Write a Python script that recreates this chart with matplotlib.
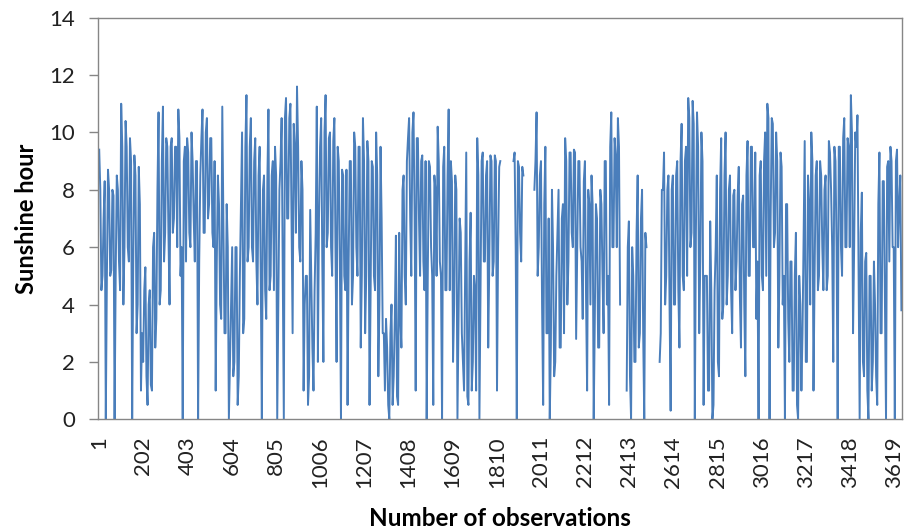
import numpy as np
import matplotlib.pyplot as plt

# =====================================================================
# Sunshine hours.
#   peaks_*  : single daily readings, every 10th observation
#              (the spikes and drops that stand out of the band)
#   core_*   : (upper, lower) edge of the dense band, every 20 obs
#   nan      : no data drawn in the reference
# =====================================================================
nan = np.nan

peaks_0001_0200 = [9.4, 4.5, 7.0, 0, 8.7, 5.0, 8.0, 0, 8.5, 5.5, 11.0, 4.0, 10.4, 6.0, 9.8, 0, 9.2, 3.0, 8.8, 1.0]
peaks_0201_0400 = [2.0, 5.3, 0.5, 4.5, 1.0, 6.5, 3.5, 10.7, 4.5, 10.9, 6.5, 9.5, 4.0, 9.8, 7.0, 9.5, 10.8, 5.0, 0, 9.5]
peaks_0401_0600 = [9.8, 6.5, 10.0, 7.0, 9.0, 0, 8.5, 10.8, 6.5, 10.5, 7.5, 9.8, 6.0, 1.0, 8.5, 4.0, 10.9, 3.0, 7.5, 0]
peaks_0601_0800 = [4.0, 1.5, 6.0, 0.5, 5.0, 10.0, 3.5, 11.3, 6.0, 10.5, 5.5, 9.8, 4.0, 9.5, 0, 8.5, 3.5, 10.8, 5.0, 9.0]
peaks_0801_1000 = [9.5, 0, 8.0, 10.5, 0, 11.2, 7.0, 11.0, 3.0, 9.5, 11.6, 6.0, 9.0, 1.0, 5.0, 0.5, 7.3, 2.5, 4.5, 10.9]
peaks_1001_1200 = [7.0, 10.5, 2.0, 11.3, 6.5, 10.0, 5.0, 10.5, 2.0, 9.0, 0, 8.5, 4.5, 0.5, 9.0, 4.0, 10.0, 6.0, 9.5, 2.5]
peaks_1201_1400 = [10.5, 3.0, 9.7, 0.5, 9.0, 5.0, 10.0, 1.5, 9.5, 3.0, 1.0, 2.5, 0, 4.0, 1.5, 6.4, 0.5, 3.5, 8.0, 5.0]
peaks_1401_1600 = [9.0, 10.5, 5.0, 10.7, 1.0, 9.8, 5.0, 9.2, 4.5, 0, 9.0, 6.0, 0.5, 8.0, 10.2, 5.5, 0, 9.5, 4.5, 10.8]
peaks_1601_1800 = [9.0, 2.0, 8.5, 0, 7.0, 3.0, 1.0, 9.3, 0.5, 7.2, 2.0, 4.5, 9.8, 0, 9.0, 5.5, 8.5, 2.5, 9.2, 5.0]
peaks_1801_2000 = [9.2, 1.0, 8.8, nan, nan, nan, nan, nan, nan, 9.3, 0, 8.8, 5.5, 8.5, nan, nan, nan, nan, 8.0, 10.7]
peaks_2001_2200 = [6.0, 9.0, 0.5, 9.5, 3.0, 0, 8.0, 1.5, 5.0, 8.0, 2.5, 7.5, 9.8, 4.0, 9.3, 6.5, 9.4, 2.8, 9.0, 6.0]
peaks_2201_2400 = [3.5, 9.0, 1.0, 7.5, 8.5, 0, 7.5, 2.5, 8.0, 5.0, 9.0, 4.0, 0.5, 10.7, 6.0, 9.2, 10.5, 4.0, nan, nan]
peaks_2401_2600 = [1.0, 6.9, 0, 5.0, 2.0, 8.5, 3.0, 8.0, 0, 6.0, nan, nan, nan, nan, nan, 2.0, 8.0, 9.3, 5.0, 8.5]
peaks_2601_2800 = [0.3, 8.5, 4.0, 9.0, 2.5, 10.3, 4.5, 9.5, 11.2, 6.0, 11.1, 0, 10.7, 3.0, 10.0, 0.5, 5.0, 1.0, 6.9, 0]
peaks_2801_3000 = [4.5, 8.5, 1.5, 9.8, 4.0, 10.0, 5.0, 8.5, 3.0, 8.0, 5.5, 8.8, 2.5, 7.8, 1.5, 9.7, 5.0, 9.5, 6.0, 3.5]
peaks_3001_3200 = [0, 9.0, 4.5, 10.0, 11.0, 0, 10.5, 6.0, 10.0, 2.5, 9.3, 4.0, 0, 7.5, 2.0, 5.5, 1.0, 6.5, 0, 4.0]
peaks_3201_3400 = [3.0, 9.7, 2.0, 7.5, 10.0, 1.0, 8.5, 4.5, 9.0, 6.0, 8.0, 4.5, 9.7, 8.0, 2.0, 9.0, 0, 9.5, 5.0, 10.5]
peaks_3401_3600 = [6.0, 9.5, 11.3, 3.0, 10.0, 10.6, 0, 7.9, 1.5, 5.8, 0, 5.0, 2.0, 4.0, 0.5, 9.3, 3.0, 8.3, 0, 9.0]
peaks_3601_3651 = [9.5, 6.0, 0, 9.4, 7.5, 3.8]

core_0001_0200 = [(8.0, 5.0), (8.3, 5.0), (8.0, 5.2), (7.8, 5.0), (8.0, 4.5), (9.5, 6.0), (9.5, 5.5), (9.0, 5.5), (8.5, 4.0), (7.5, 3.0)]
core_0201_0400 = [(4.5, 1.5), (4.0, 1.2), (6.0, 2.5), (8.0, 4.0), (9.0, 5.5), (9.8, 6.5), (9.5, 6.5), (9.5, 6.0), (9.8, 6.0), (9.0, 5.5)]
core_0401_0600 = [(9.3, 6.0), (9.0, 5.5), (9.0, 5.5), (9.8, 6.5), (10.0, 7.0), (9.8, 6.5), (9.0, 5.5), (7.5, 3.5), (7.0, 3.0), (6.0, 2.0)]
core_0601_0800 = [(6.0, 2.0), (6.0, 1.5), (7.5, 3.0), (9.5, 5.5), (9.5, 6.0), (9.0, 5.5), (8.5, 5.0), (8.0, 4.5), (8.3, 4.5), (8.5, 4.5)]
core_0801_1000 = [(8.5, 4.0), (9.0, 5.0), (10.5, 7.0), (10.5, 7.0), (10.3, 6.5), (9.5, 5.5), (8.0, 4.0), (5.0, 1.5), (5.0, 1.0), (6.5, 2.0)]
core_1001_1200 = [(9.5, 5.5), (10.0, 6.0), (9.8, 6.0), (9.7, 6.0), (9.5, 5.5), (8.7, 5.0), (8.7, 5.5), (9.0, 5.0), (9.5, 5.0), (9.5, 5.0)]
core_1201_1400 = [(9.0, 5.0), (9.0, 4.5), (8.8, 4.5), (8.5, 4.0), (7.0, 3.0), (3.5, 0.5), (3.0, 0.5), (3.5, 0.8), (6.5, 2.5), (8.5, 4.0)]
core_1401_1600 = [(9.8, 7.0), (10.0, 7.2), (9.8, 7.0), (9.0, 5.5), (9.0, 5.0), (8.8, 5.0), (8.5, 5.0), (9.0, 5.0), (8.8, 4.5), (8.5, 4.5)]
core_1601_1800 = [(8.3, 4.0), (8.0, 3.5), (6.5, 2.0), (5.0, 0.8), (5.5, 1.0), (5.0, 1.0), (8.5, 4.5), (9.3, 5.5), (9.0, 5.5), (9.0, 5.5)]
core_1801_2000 = [(9.0, 6.0), (9.0, nan), (nan, nan), (nan, nan), (9.0, 6.0), (9.0, 6.5), (8.8, nan), (nan, nan), (nan, nan), (9.0, 5.0)]
core_2001_2200 = [(8.5, 4.0), (7.5, 3.0), (7.0, 2.5), (6.0, 2.0), (6.5, 2.5), (7.0, 3.0), (9.0, 5.5), (9.3, 6.0), (9.3, 6.0), (9.0, 5.5)]
core_2201_2400 = [(8.3, 4.3), (8.0, 4.0), (7.5, 3.5), (7.0, 2.5), (7.5, 3.0), (9.0, 5.0), (9.5, 6.0), (9.8, 6.0), (9.5, nan), (nan, nan)]
core_2401_2600 = [(6.0, 1.5), (6.0, 2.0), (6.5, 2.5), (7.0, 3.0), (6.5, nan), (nan, nan), (nan, nan), (nan, 3.0), (8.0, 4.0), (8.0, 4.0)]
core_2601_2800 = [(8.0, 4.0), (8.5, 4.5), (9.0, 5.0), (9.0, 5.0), (10.5, 6.5), (10.3, 6.5), (9.5, 5.5), (9.0, 5.0), (5.0, 1.0), (4.5, 0.5)]
core_2801_3000 = [(6.0, 2.0), (8.0, 3.5), (8.5, 4.0), (8.0, 4.5), (7.8, 4.5), (7.8, 4.3), (7.5, 4.0), (8.5, 5.0), (9.5, 6.0), (9.3, 5.5)]
core_3001_3200 = [(8.5, 5.0), (9.0, 5.0), (10.5, 7.0), (10.3, 6.5), (9.0, 5.0), (8.8, 5.0), (7.5, 3.5), (5.5, 1.0), (5.0, 0.5), (5.0, 1.0)]
core_3201_3400 = [(6.5, 2.0), (8.5, 4.0), (9.0, 5.0), (9.0, 5.0), (8.5, 4.5), (8.5, 5.0), (9.3, 6.0), (9.5, 6.0), (9.5, 6.0), (9.8, 6.0)]
core_3401_3600 = [(9.8, 6.0), (10.0, 6.0), (9.5, 5.5), (6.5, 2.0), (5.5, 1.0), (5.0, 1.0), (5.5, 1.5), (7.5, 3.0), (8.3, 4.0), (8.8, 5.5)]
core_3601_3651 = [(9.0, 6.0), (9.0, 6.0), (8.5, nan)]

peaks = (peaks_0001_0200 + peaks_0201_0400 + peaks_0401_0600 + peaks_0601_0800
         + peaks_0801_1000 + peaks_1001_1200 + peaks_1201_1400 + peaks_1401_1600
         + peaks_1601_1800 + peaks_1801_2000 + peaks_2001_2200 + peaks_2201_2400
         + peaks_2401_2600 + peaks_2601_2800 + peaks_2801_3000 + peaks_3001_3200
         + peaks_3201_3400 + peaks_3401_3600 + peaks_3601_3651)
core = (core_0001_0200 + core_0201_0400 + core_0401_0600 + core_0601_0800
        + core_0801_1000 + core_1001_1200 + core_1201_1400 + core_1401_1600
        + core_1601_1800 + core_1801_2000 + core_2001_2200 + core_2201_2400
        + core_2401_2600 + core_2601_2800 + core_2801_3000 + core_3001_3200
        + core_3201_3400 + core_3401_3600 + core_3601_3651)

# put the readings back in observation order: every 20 obs ->
# peak, band top, peak, band bottom (one reading per 5 obs)
sunshine = []
for j, (top, bottom) in enumerate(core):
    sunshine += [peaks[2 * j], top, peaks[2 * j + 1], bottom]
sunshine = np.array(sunshine, dtype=float)
observation = 1 + 5 * np.arange(len(sunshine))

# category labels shown on the x axis (every 201st observation)
tick_labels = [1, 202, 403, 604, 805, 1006, 1207, 1408, 1609, 1810,
               2011, 2212, 2413, 2614, 2815, 3016, 3217, 3418, 3619]
y_ticks = [0, 2, 4, 6, 8, 10, 12, 14]

# =====================================================================
# Plot
# =====================================================================
plt.rcParams['font.family'] = ['Lato', 'DejaVu Sans']

fig = plt.figure(figsize=(9.06, 5.31), dpi=100)
ax = fig.add_axes([0.1078, 0.2104, 0.8881, 0.7563])

# a bit heavier than a hairline so the dense band closes up
ax.plot(observation, sunshine, color='#4a7ebb', linewidth=1.4)

ax.set_xlim(-6, 3655)
ax.set_ylim(0, 14)
ax.set_xticks(tick_labels)
ax.set_xticklabels([str(t) for t in tick_labels], rotation=90, fontsize=16)
ax.set_yticks(y_ticks)
ax.set_yticklabels([str(t) for t in y_ticks], fontsize=16)

ax.tick_params(axis='x', length=0, pad=12, colors='#222222')
ax.tick_params(axis='y', length=6.5, width=1, pad=10, color='#868686', labelcolor='#222222')

for side in ['left', 'right', 'top', 'bottom']:
    ax.spines[side].set_color('#868686')
    ax.spines[side].set_linewidth(1)

ax.set_ylabel('Sunshine hour', fontsize=17, fontweight='bold', labelpad=8)
ax.set_xlabel('Number of observations', fontsize=17.5, fontweight='bold', labelpad=14)

fig.savefig('out.png', dpi=100)
